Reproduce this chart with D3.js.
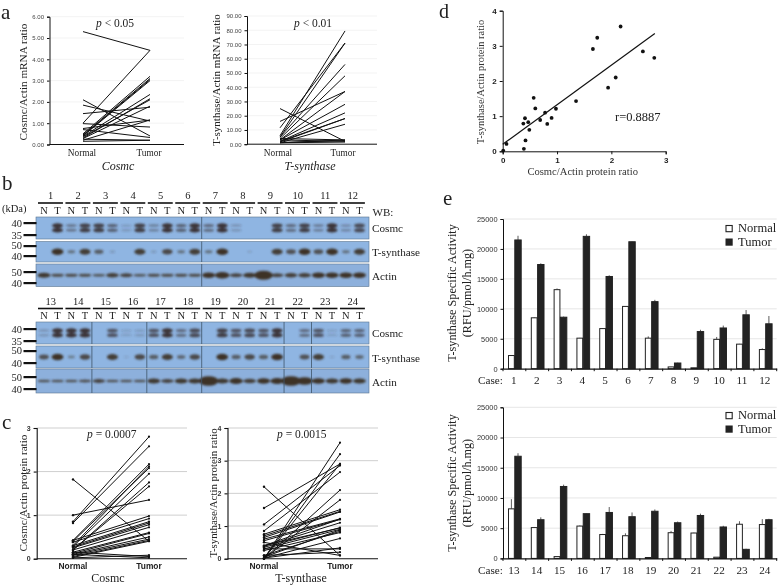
<!DOCTYPE html>
<html><head><meta charset="utf-8">
<script src="https://cdn.jsdelivr.net/npm/d3@7/dist/d3.min.js"></script>
<style>html,body{margin:0;padding:0;background:#fff}svg{display:block;filter:blur(0.3px)}</style>
</head><body><div id="c"></div>
<script>
// ---- Data ----
const pairLabels = ["Normal","Tumor"];
const mrnaCosmcN = [5.3,1.0,2.1,1.85,1.45,0.98,0.75,0.7,0.5,0.45,0.42,0.4,0.38,0.35,0.3,0.28,0.2,0.15,0.25];
const mrnaCosmcT = [4.42,4.42,0.4,1.1,1.75,0.82,1.15,0.33,3.2,3.1,3.05,3.0,2.35,2.1,2.15,1.8,1.15,0.2,0.2];
const mrnaTsynN = [25,16,11.5,6,5,5,4,3,3,2,2,1.5,1,4,3,1,1,1.2];
const mrnaTsynT = [2,37,71,79.5,71,56,48,37,28,22,18,18,14,3,2,3,1.5,2.5];
const protCosmcN = [0.82,0.85,1.82,1.0,0.42,0.4,0.3,0.28,0.2,0.2,0.42,0.38,0.3,0.27,0.25,0.2,0.15,0.12,0.1,0.08,0.05,0.03,0.15,0.1,0.02];
const protCosmcT = [2.58,2.8,0.4,1.35,2.17,2.08,2.12,1.95,1.75,1.66,0.98,0.92,0.85,0.82,0.78,0.72,0.6,0.58,0.5,0.45,0.42,0.4,0.05,0.02,0.08];
const protTsynN = [2.2,1.55,1.05,0.85,0,0,0,0,0,0.75,0.7,0.65,0.6,0.55,0.4,0.38,0.35,0.4,0.3,0.05,0.1,0.25,0.02,0.3,0.1,0.5,0.02];
const protTsynT = [0.1,2.9,2.85,2.65,3.55,3.2,2.9,2.1,1.8,1.5,1.45,1.43,1.22,1.2,1.21,1.1,0.95,0.94,0.9,0.88,0.84,0.8,0.62,0.3,0.2,0.1,0.33];
const scatterX = [0.01,0.07,0.39,0.42,0.38,0.41,0.47,0.49,0.57,0.6,0.69,0.78,0.82,0.9,0.98,1.35,1.66,1.74,1.94,2.08,2.17,2.58,2.79];
const scatterY = [0.02,0.21,0.07,0.31,0.79,0.94,0.83,0.61,1.52,1.22,0.89,1.1,0.78,0.95,1.21,1.43,2.91,3.23,1.81,2.1,3.55,2.84,2.66];
const fitX = [0,2.8];
const fitY = [0.2,3.35];
const casesA = ["1","2","3","4","5","6","7","8","9","10","11","12"];
const casesB = ["13","14","15","16","17","18","19","20","21","22","23","24"];
const normalA = [2200,8500,13200,5100,6700,10400,5100,300,150,4900,4100,3200];
const tumorA = [21500,17400,8600,22100,15400,21200,11200,950,6200,6800,9000,7500];
const normalErrA = [50,100,200,50,80,50,300,30,20,400,50,200];
const tumorErrA = [700,200,100,350,200,50,300,50,300,400,800,1300];
const normalB = [8200,5100,300,5350,3950,3750,150,4250,4200,200,5650,5600];
const tumorB = [16900,6400,11900,7400,7600,6900,7800,5900,7100,5200,1500,6400];
const normalErrB = [1600,100,20,100,100,400,20,300,50,20,500,900];
const tumorErrB = [500,400,300,50,900,700,300,200,300,200,100,150];
// western blot band strength per lane (0 = none)
const cosmcNA = [0,.4,.9,.1,.3,.6,.5,.15,0,.5,.35,.25];
const cosmcTA = [1,.9,.6,.9,1,1,1,0,.9,.9,1,.8];
const tsynNA = [0,.4,.6,0,.1,.4,.4,0,0,.7,.7,.4];
const tsynTA = [1,.9,.1,.9,.8,.9,1,.02,.9,1,1,.9];
const actinNA = [.9,.6,.5,.7,.6,.6,1,.7,1.7,.8,1,1];
const actinTA = [.6,.6,.8,.5,.6,.6,1.2,.9,.7,.8,1,1];
const cosmcNB = [.15,1,0,.05,.7,.5,0,.7,.7,0,.7,.6];
const cosmcTB = [1,1,.7,.1,1,.8,.9,.8,1,.5,.05,.6];
const tsynNB = [.7,.3,0,.03,.6,.5,0,.6,.6,0,.9,.6];
const tsynTB = [1,.8,.9,.8,.9,.8,1,.8,1,.7,.05,.5];
const actinNB = [.5,.5,.7,.5,.9,.9,1.8,1.1,1,1.8,1,1];
const actinTB = [.5,.55,.5,.5,.7,.9,.9,.8,1.1,1.4,.9,.9];
const blotNames = ["Cosmc","T-synthase","Actin"];

// ---- Setup ----
const W=778,H=585, SERIF='"Liberation Serif",serif', SANS='"Liberation Sans",sans-serif';
const svg=d3.select("#c").append("svg").attr("width",W).attr("height",H).attr("viewBox",`0 0 ${W} ${H}`);
svg.append("rect").attr("width",W).attr("height",H).attr("fill","#fff");
const defs=svg.append("defs");
defs.append("filter").attr("id","bl").attr("x","-30%").attr("y","-60%").attr("width","160%").attr("height","220%")
  .append("feGaussianBlur").attr("stdDeviation",0.9);
function txt(x,y,s,o={}){
  const t=svg.append("text").attr("x",x).attr("y",y).text(s)
   .attr("font-family",o.ff||SERIF).attr("font-size",o.fs||11).attr("fill",o.fill||"#222")
   .attr("text-anchor",o.a||"start");
  if(o.it)t.attr("font-style","italic"); if(o.b)t.attr("font-weight","bold");
  if(o.rot)t.attr("transform",`rotate(-90 ${x} ${y})`);
  return t;
}
function pval(x,y,rest,fs){
  const t=svg.append("text").attr("x",x).attr("y",y).attr("font-family",SERIF).attr("font-size",fs).attr("fill","#222");
  t.append("tspan").attr("font-style","italic").text("p");
  t.append("tspan").text(rest);
}
function styleAxis(g,o){
  g.selectAll("path,line").attr("stroke",o.c||"#111").attr("stroke-width",o.sw||1);
  g.selectAll("text").attr("font-family",o.ff||SANS).attr("font-size",o.fs||6).attr("fill",o.tc||"#333").attr("font-weight",o.b?"bold":"normal");
}
// ---- paired panels ----
function paired(o){
  const y=d3.scaleLinear().domain([0,o.max]).range([o.y0,o.y1]);
  const x=d3.scalePoint().domain(pairLabels).range([o.xn,o.xt]);
  const g=svg.append("g");
  g.selectAll("line.grid").data(o.ticks.slice(1)).join("line")
    .attr("x1",o.ax).attr("x2",o.end).attr("y1",d=>y(d)).attr("y2",d=>y(d))
    .attr("stroke",o.grid).attr("stroke-width",1);
  const pairs=d3.zip(o.n,o.t);
  g.append("g").selectAll("line").data(pairs).join("line")
    .attr("x1",x("Normal")).attr("x2",x("Tumor")).attr("y1",d=>y(d[0])).attr("y2",d=>y(d[1]))
    .attr("stroke","#111").attr("stroke-width",o.lw);
  if(o.dots){
    g.append("g").selectAll("circle").data(o.n).join("circle").attr("cx",x("Normal")).attr("cy",d=>y(d)).attr("r",1.2).attr("fill","#111");
    g.append("g").selectAll("circle").data(o.t).join("circle").attr("cx",x("Tumor")).attr("cy",d=>y(d)).attr("r",1.1).attr("fill","#111");
  }
  const ya=svg.append("g").attr("transform",`translate(${o.ax},0)`)
    .call(d3.axisLeft(y).tickValues(o.ticks).tickSize(o.ts).tickFormat(o.fmt));
  styleAxis(ya,{fs:o.tickFs,b:o.tickB,sw:o.axW,tc:o.tickC});
  svg.append("line").attr("x1",o.ax).attr("x2",o.end).attr("y1",o.y0).attr("y2",o.y0).attr("stroke","#111").attr("stroke-width",o.axW);
  pairLabels.forEach(l=>{
    txt(x(l)+(o.labDx||0),o.labY,l,{a:"middle",fs:o.labFs,ff:o.labFf,b:o.labB,fill:"#222"});
  });
}
const f2=d3.format(".2f"), f0=d3.format("d");
paired({n:mrnaCosmcN,t:mrnaCosmcT,max:6,y0:144.5,y1:16.7,xn:83,xt:150,ax:49.5,end:184,ticks:[0,1,2,3,4,5,6],fmt:f2,ts:2.5,tickFs:6,grid:"#f3f3f3",lw:1,axW:1,labY:156,labFs:9.3,labFf:SERIF,labDx:-1,tickC:"#444"});
txt(118,170,"Cosmc",{a:"middle",fs:12,it:1});
txt(27,82,"Cosmc/Actin mRNA ratio",{a:"middle",fs:11.2,rot:1});
pval(96,27,"\u00a0< 0.05",11.5);
paired({n:mrnaTsynN,t:mrnaTsynT,max:90,y0:144.2,y1:16,xn:280,xt:345,ax:247,end:377,ticks:d3.range(0,91,10),fmt:f2,ts:2.5,tickFs:6,grid:"#f3f3f3",lw:1,axW:1,labY:156,labFs:9.3,labFf:SERIF,tickC:"#444",labDx:-2});
txt(310,170,"T-synthase",{a:"middle",fs:12,it:1});
txt(220,80,"T-synthase/Actin mRNA ratio",{a:"middle",fs:11,rot:1});
pval(294,27,"\u00a0< 0.01",11.5);

paired({n:protCosmcN,t:protCosmcT,max:3,y0:558.7,y1:428,xn:73,xt:149,ax:36.7,end:187,ticks:[0,1,2,3],fmt:f0,ts:3,tickFs:7,tickB:1,grid:"#cfcfcf",lw:1,axW:1.1,dots:1,labY:569,labFs:8.4,labFf:SANS,labB:1});
txt(108,582,"Cosmc",{a:"middle",fs:12});
txt(27,493,"Cosmc/Actin protein ratio",{a:"middle",fs:11.2,rot:1});
pval(87,438,"\u00a0= 0.0007",11.5);
paired({n:protTsynN,t:protTsynT,max:4,y0:558.7,y1:428,xn:264,xt:340,ax:227.5,end:378,ticks:[0,1,2,3,4],fmt:f0,ts:3,tickFs:7,tickB:1,grid:"#cfcfcf",lw:1,axW:1.1,dots:1,labY:569,labFs:8.4,labFf:SANS,labB:1});
txt(301,582,"T-synthase",{a:"middle",fs:12});
txt(217,493,"T-synthase/Actin protein ratio",{a:"middle",fs:10.8,rot:1});
pval(277,438,"\u00a0= 0.0015",11.5);

// ---- scatter ----
(function(){
  const x=d3.scaleLinear().domain([0,3]).range([502.7,665.7]);
  const y=d3.scaleLinear().domain([0,4]).range([151.3,10.7]);
  svg.append("g").selectAll("circle").data(d3.zip(scatterX,scatterY)).join("circle")
    .attr("cx",d=>x(d[0])).attr("cy",d=>y(d[1])).attr("r",1.9).attr("fill","#111");
  svg.append("path").attr("d",d3.line().x(d=>x(d[0])).y(d=>y(d[1]))(d3.zip(fitX,fitY))).attr("stroke","#111").attr("stroke-width",1.2).attr("fill","none");
  const xa=svg.append("g").attr("transform","translate(0,151.3)").call(d3.axisBottom(x).tickValues([0,1,2,3]).tickSize(3).tickFormat(f0));
  const ya=svg.append("g").attr("transform","translate(502.7,0)").call(d3.axisLeft(y).tickValues([0,1,2,3,4]).tickSize(3).tickFormat(f0));
  styleAxis(xa,{fs:8,b:1,sw:1,tc:"#222"}); styleAxis(ya,{fs:8,b:1,sw:1,tc:"#222"});
  txt(582.7,175,"Cosmc/Actin protein ratio",{a:"middle",fs:10.6,fill:"#333"});
  txt(484,82,"T-synthase/Actin protein ratio",{a:"middle",fs:10.4,rot:1,fill:"#333"});
  txt(615,121,"r=0.8887",{fs:12.5});
})();

// ---- blots ----
function blot(o){
  const cs=o.cases;
  const cx=d3.scaleBand().domain(cs).range([37,366.4]);
  const lane=d3.scalePoint().domain(pairLabels).range([cx.bandwidth()/2-6.8,cx.bandwidth()/2+6.8]);
  const hdr=svg.append("g");
  cs.forEach(c=>{
    const cc=cx(c)+cx.bandwidth()/2;
    txt(cc,o.numY,c,{a:"middle",fs:10.5});
    hdr.append("line").attr("x1",cx(c)+1).attr("x2",cx(c)+cx.bandwidth()-1.5).attr("y1",o.barY).attr("y2",o.barY).attr("stroke","#111").attr("stroke-width",1.6);
    txt(cx(c)+lane("Normal"),o.ntY,"N",{a:"middle",fs:10.5});
    txt(cx(c)+lane("Tumor"),o.ntY,"T",{a:"middle",fs:10.5});
  });
  o.rows.forEach((r,ri)=>{
    const g=svg.append("g");
    g.append("rect").attr("x",36).attr("y",r.y).attr("width",333).attr("height",r.h).attr("fill",ri==2?"#8db0dc":"#8fb5e2").attr("stroke","#5b7690").attr("stroke-width",.6);
    const b=g.append("g").attr("filter","url(#bl)");
    const row=[];
    cs.forEach((c,i)=>{row.push([cx(c)+lane("Normal"),r.n[i]]);row.push([cx(c)+lane("Tumor"),r.t[i]]);});
    row.forEach(([lx,v])=>{
      if(v<=0)return;
      const op=Math.min(1,.2+v*.8);
      if(ri==0){
        [0,1].forEach(k=>{
          b.append("ellipse").attr("cx",lx).attr("cy",r.y+r.h*(k?0.6:0.39)).attr("rx",5.4).attr("ry",.8+v*1.5)
           .attr("fill","#3a3336").attr("opacity",op);
        });
      } else if(ri==1){
        b.append("ellipse").attr("cx",lx).attr("cy",r.y+r.h*.5).attr("rx",2.5+v*3.4).attr("ry",.7+v*2.5)
           .attr("fill","#3d3328").attr("opacity",op);
      } else {
        b.append("ellipse").attr("cx",lx).attr("cy",r.y+r.h*.5).attr("rx",6.4+Math.max(0,v-1)*4).attr("ry",Math.max(1.1,v*2.7))
           .attr("fill","#3d3328").attr("opacity",Math.min(1,.55+v*.45));
      }
    });
    o.div.forEach(d=>{
      g.append("line").attr("x1",37+d*cx.bandwidth()).attr("x2",37+d*cx.bandwidth()).attr("y1",r.y).attr("y2",r.y+r.h).attr("stroke","#3f5468").attr("stroke-width",.8);
    });
    txt(372,r.lab,blotNames[ri],{fs:11.2});
  });
  o.marks.forEach(m=>{
    svg.append("rect").attr("x",23.5).attr("y",m[1]-1).attr("width",13).attr("height",2.2).attr("fill","#111");
    txt(22,m[2],m[0],{a:"end",fs:10.5});
  });
}
blot({cases:casesA,numY:199,barY:203,ntY:214,div:[6],
 rows:[{y:217,h:22,n:cosmcNA,t:cosmcTA,lab:232},{y:241.5,h:20.5,n:tsynNA,t:tsynTA,lab:256},{y:264,h:22.5,n:actinNA,t:actinTA,lab:280}],
 marks:[["40",223,227],["35",235,239],["50",246,248.5],["40",256,260],["50",272,275.5],["40",283,287]]});
blot({cases:casesB,numY:305,barY:308.5,ntY:319,div:[2,4,6,9,10],
 rows:[{y:322,h:22,n:cosmcNB,t:cosmcTB,lab:337},{y:346,h:22,n:tsynNB,t:tsynTB,lab:362},{y:369,h:24,n:actinNB,t:actinTB,lab:386}],
 marks:[["40",329,333],["35",341,344.5],["50",351,354],["40",363,366.5],["50",377,380.5],["40",389,393]]});
txt(372.5,216,"WB:",{fs:11});
txt(2,212,"(kDa)",{fs:10.5});

// ---- bar charts ----
function bars(o){
  const x=d3.scaleBand().domain(o.cases).range([503,776.7]);
  const y=d3.scaleLinear().domain([0,25000]).range([o.y0,o.y1]);
  const sx=d3.scalePoint().domain(pairLabels).range([8.4,15]);
  const g=svg.append("g");
  g.selectAll("line").data([5000,10000,15000,20000,25000]).join("line")
    .attr("x1",503).attr("x2",776.7).attr("y1",d=>y(d)).attr("y2",d=>y(d)).attr("stroke","#e6e6e6");
  const draw=(vals,errs,key,fill,stroke,w)=>{
    const G=svg.append("g");
    vals.forEach((v,i)=>{
      const bx=x(o.cases[i])+sx(key);
      G.append("line").attr("x1",bx).attr("x2",bx).attr("y1",y(v)).attr("y2",y(v+errs[i])).attr("stroke","#333").attr("stroke-width",.8);
      G.append("rect").attr("x",bx-w/2).attr("y",y(v)).attr("width",w).attr("height",o.y0-y(v)).attr("fill",fill).attr("stroke",stroke).attr("stroke-width",1);
    });
  };
  draw(o.n,o.ne,"Normal","#fff","#222",5.8);
  draw(o.t,o.te,"Tumor","#232323","#222",6.4);
  const ya=svg.append("g").attr("transform","translate(503,0)").call(d3.axisLeft(y).tickValues([0,5000,10000,15000,20000,25000]).tickSize(2.5));
  ya.selectAll("text").text(d=>d);
  styleAxis(ya,{fs:7.4,tc:"#333",sw:1});
  const xa=svg.append("g").attr("transform",`translate(0,${o.y0})`).call(d3.axisBottom(x).tickValues([]).tickSize(0));
  xa.selectAll("path").attr("stroke","#111").attr("stroke-width",1.2);
  svg.append("g").selectAll("line").data(d3.range(0,13)).join("line")
    .attr("x1",d=>503+d*x.bandwidth()).attr("x2",d=>503+d*x.bandwidth()).attr("y1",o.y0).attr("y2",o.y0+2.5).attr("stroke","#111");
  o.cases.forEach(c=>txt(x(c)+x.bandwidth()/2-.5,o.y0+15.5,c,{a:"middle",fs:11.2}));
  txt(478,o.y0+15.5,"Case:",{fs:11.2});
  const [n1,t1]=o.leg;
  svg.append("rect").attr("x",726).attr("y",n1-6.5).attr("width",6.2).attr("height",6.2).attr("fill","#fff").attr("stroke","#222").attr("stroke-width",1.1);
  svg.append("rect").attr("x",725.5).attr("y",t1-7).attr("width",7.2).attr("height",7.2).attr("fill","#222");
  txt(738,n1,"Normal",{fs:12.5}); txt(738,t1,"Tumor",{fs:12.5});
  txt(456,o.lab,"T-synthase Specific Activity",{a:"middle",fs:12.2,rot:1});
  txt(471,o.lab,"(RFU/pmol/h.mg)",{a:"middle",fs:12.2,rot:1});
}
bars({cases:casesA,n:normalA,t:tumorA,ne:normalErrA,te:tumorErrA,y0:368.7,y1:219,leg:[232,245.5],lab:293});
bars({cases:casesB,n:normalB,t:tumorB,ne:normalErrB,te:tumorErrB,y0:558.4,y1:407.3,leg:[419,432.5],lab:483});

// ---- panel letters ----
txt(1,19,"a",{fs:21});
txt(2,190,"b",{fs:21});
txt(2,429,"c",{fs:21});
txt(439,18,"d",{fs:20});
txt(443,205,"e",{fs:21});
</script></body></html>
